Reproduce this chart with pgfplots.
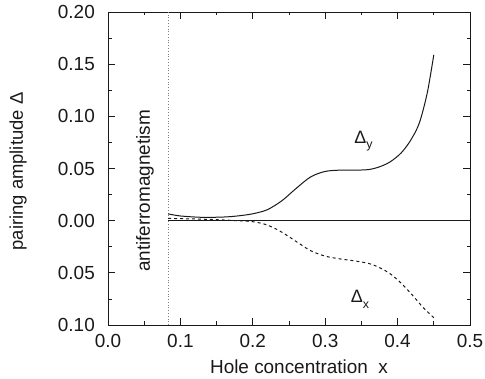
\documentclass[border=0pt]{standalone}
\usepackage{pgfplots}
\pgfplotsset{compat=1.18}
\usepackage{fontspec}
\setmainfont{Liberation Sans}
\definecolor{ink}{gray}{0.1}
\begin{document}
\begin{tikzpicture}
\begin{axis}[
  scale only axis, width=362bp, height=313bp,
  xmin=0, xmax=0.5, ymin=-0.1, ymax=0.2,
  xtick={0,0.1,0.2,0.3,0.4,0.5},
  xticklabels={0.0,0.1,0.2,0.3,0.4,0.5},
  ytick={-0.1,-0.05,0,0.05,0.1,0.15,0.2},
  yticklabels={0.10,0.05,0.00,0.05,0.10,0.15,0.20},
  minor x tick num=1, minor y tick num=1,
  tick align=inside, major tick length=7bp, minor tick length=3.5bp,
  tick style={ink, line width=0.7pt},
  axis line style={ink, line width=0.8pt},
  /pgf/number format/assume math mode=true,
  ticklabel style={font=\fontsize{19}{22}\selectfont, text=ink, inner sep=0pt},
  xticklabel style={anchor=base, yshift=-22.7bp},
  yticklabel style={anchor=east, xshift=-13bp},
  xlabel={Hole concentration\ \ x},
  xlabel style={font=\fontsize{19}{22}\selectfont, text=ink, inner sep=0pt,
    at={(axis description cs:0.5,0)}, anchor=base, xshift=10bp, yshift=-48bp},
  clip=false,
]
\addplot[ink, line width=0.6pt] coordinates {(0.083,0) (0.5,0)};
\addplot[gray, dotted, line width=0.8pt] coordinates {(0.083,-0.1) (0.083,0.2)};
\addplot[ink, line width=1pt, smooth] coordinates {
(0.083,0.0065) (0.10,0.0045) (0.13,0.0032) (0.16,0.0035) (0.18,0.0046)
(0.20,0.0066) (0.22,0.0105) (0.24,0.0190) (0.26,0.0310) (0.28,0.0420)
(0.30,0.0472) (0.32,0.0484) (0.34,0.0484) (0.36,0.0490) (0.375,0.0516)
(0.39,0.0565) (0.405,0.0650) (0.418,0.0770) (0.430,0.0936) (0.441,0.1226)
(0.450,0.1590)};
\addplot[ink, line width=1pt, dashed, smooth] coordinates {
(0.083,0.0022) (0.11,0.0018) (0.14,0.0012) (0.17,0.0003)
(0.20,-0.0010) (0.22,-0.0042) (0.24,-0.0110) (0.26,-0.0200) (0.28,-0.0288)
(0.30,-0.0340) (0.32,-0.0366) (0.34,-0.0385) (0.36,-0.0410) (0.375,-0.0450)
(0.39,-0.0510) (0.405,-0.0600) (0.42,-0.0710) (0.435,-0.0830) (0.450,-0.0930)};
\node[rotate=90, font=\fontsize{19}{22}\selectfont, text=ink, inner sep=0pt] at (axis cs:0.051,0.0285) {antiferromagnetism};
\node[font=\fontsize{18}{20}\selectfont, text=ink, inner sep=0pt] at (axis cs:0.353,0.0765) {Δ\raisebox{-0.3em}{\fontsize{12.5}{12}\selectfont y}};
\node[font=\fontsize{18}{20}\selectfont, text=ink, inner sep=0pt] at (axis cs:0.348,-0.0755) {Δ\raisebox{-0.3em}{\fontsize{12.5}{12}\selectfont x}};
\end{axis}
\node[rotate=90, font=\fontsize{18.5}{22}\selectfont, text=ink, inner sep=0pt]
  at ([shift={(-90bp,-3bp)}]current axis.west) {pairing amplitude Δ};
\pgfresetboundingbox
\path[use as bounding box] ([shift={(-108bp,-54bp)}]current axis.south west) rectangle ([shift={(15bp,12bp)}]current axis.north east);
\end{tikzpicture}
\end{document}
